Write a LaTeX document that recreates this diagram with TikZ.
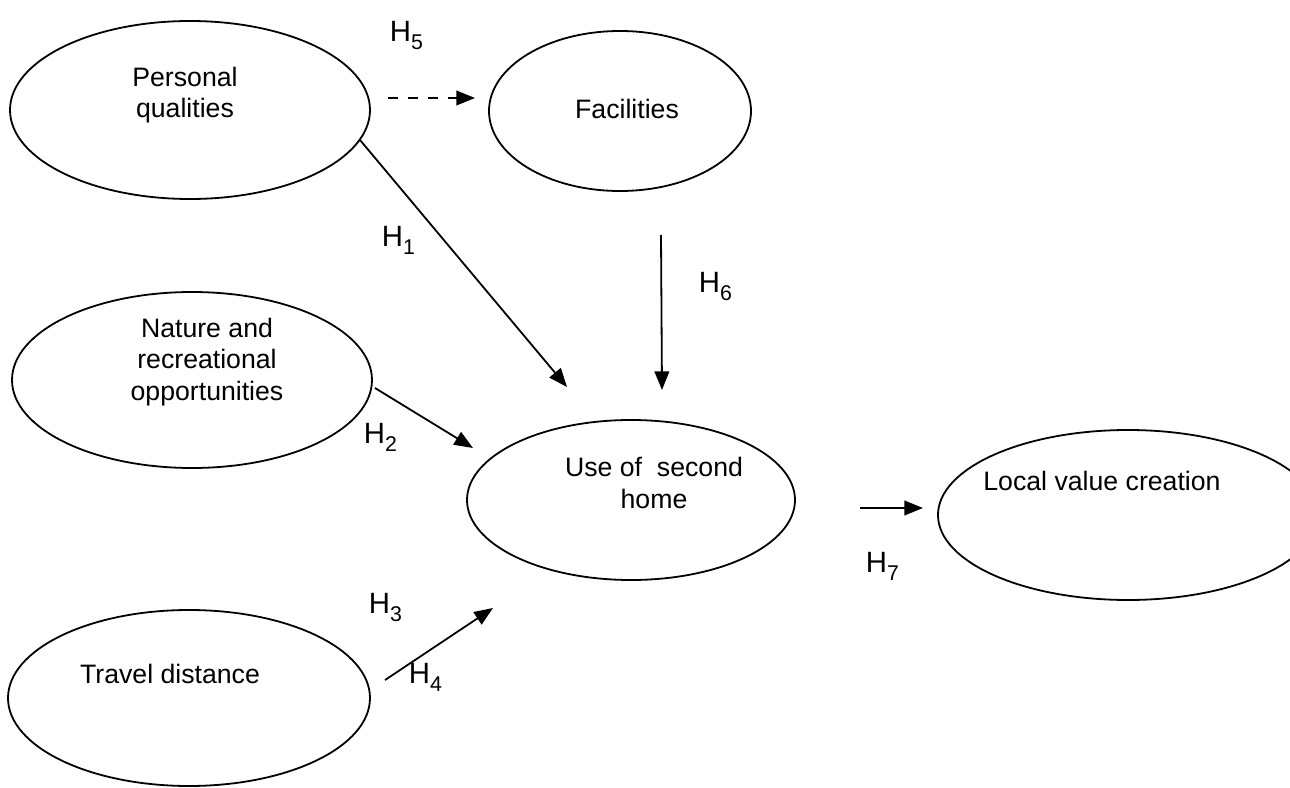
\documentclass[tikz,border=0pt]{standalone}
\usepackage{fontspec}
\setmainfont{Liberation Sans}
\usepackage{tikz}
\usetikzlibrary{arrows.meta}
\usetikzlibrary{shapes.geometric}
\tikzset{
	mymodel/.style = {
		x=0.75pt, y=-0.75pt, line width=1.35pt,
		>={Triangle[length=14pt,width=11pt]},
	},
	construct/.style = {draw, ellipse, inner sep=0pt},
	ctext/.style = {align=center, anchor=base, inner sep=0pt,
		font=\fontsize{20}{23.3}\selectfont},
	hyp/.style = {anchor=base west, inner sep=0pt,
		font=\fontsize{22}{26}\selectfont},
}
\newcommand{\hsub}[1]{H\raisebox{-6pt}{\fontsize{16}{16}\selectfont #1}}

\begin{document}
\begin{tikzpicture}[mymodel]
		\useasboundingbox (0,0) rectangle (1290,788);
		% constructs
		\node[construct, minimum width=270pt, minimum height=133.5pt] (pq) at (190,110) {};
		\node[construct, minimum width=196.5pt, minimum height=120pt] (fac) at (620,111) {};
		\node[construct, minimum width=270pt, minimum height=132pt] (nat) at (192,380) {};
		\node[construct, minimum width=246pt, minimum height=120pt] (use) at (631,500) {};
		\node[construct, minimum width=285pt, minimum height=127.5pt] (lvc) at (1128,515) {};
		\node[construct, minimum width=271.5pt, minimum height=132pt] (trav) at (189,698) {};
		
		% texts (base = last line)
		\node[ctext] (pq-t) at (185,118) {Personal\\qualities};
		\node[ctext] (fac-t) at (627,119) {Facilities};
		\node[ctext] (nat-t) at (207,400) {Nature and\\recreational\\opportunities};
		\node[ctext] (use-t) at (654,508) {Use of \ second\\home};
		\node[ctext] (lvc-t) at (1102,490) {Local value creation};
		\node[ctext] (trav-t) at (170,683) {Travel distance};
		
		% arrow ends
		\coordinate (h5a) at (388,98);   \coordinate (h5b) at (475,98);
		\coordinate (h1a) at (360,140);  \coordinate (h1b) at (567,387);
		\coordinate (h6a) at (661,235);  \coordinate (h6b) at (662,390);
		\coordinate (h2a) at (375,388);  \coordinate (h2b) at (473,448);
		\coordinate (h3a) at (385,680);  \coordinate (h3b) at (493,608);
		\coordinate (h7a) at (860,508);  \coordinate (h7b) at (923,508);
		
		\draw[->, dash pattern=on 7.5pt off 7.5pt] (h5a) -- (h5b);
		\draw[->] (h1a) -- (h1b);
		\draw[->] (h6a) -- (h6b);
		\draw[->] (h2a) -- (h2b);
		\draw[->] (h3a) -- (h3b);
		\draw[->] (h7a) -- (h7b);
		
		% hypotheses
		\node[hyp] (l5) at (389,42) {\hsub{5}};
		\node[hyp] (l1) at (381,247) {\hsub{1}};
		\node[hyp] (l6) at (698,292) {\hsub{6}};
		\node[hyp] (l2) at (363,443) {\hsub{2}};
		\node[hyp] (l3) at (368,613) {\hsub{3}};
		\node[hyp] (l4) at (408,683) {\hsub{4}};
		\node[hyp] (l7) at (865,572) {\hsub{7}};
	\end{tikzpicture}
\end{document}
